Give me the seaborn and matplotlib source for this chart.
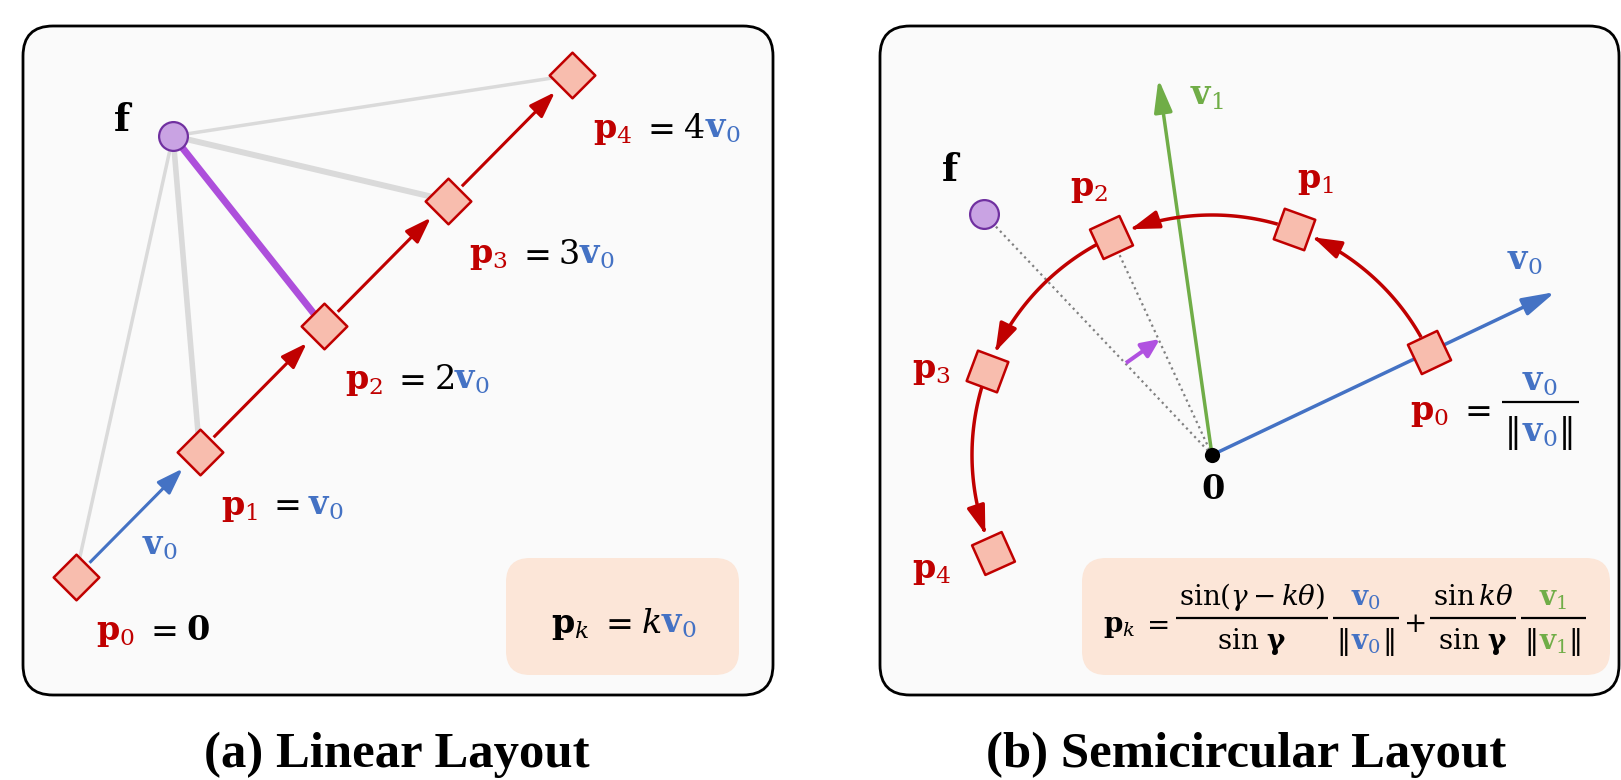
import numpy as np
import matplotlib.pyplot as plt
import seaborn as sns
from matplotlib.patches import FancyBboxPatch, FancyArrowPatch
from matplotlib.path import Path

# ---- data (pixel space of the 1621x780 canvas, y pointing down) ----
# (a) linear layout: p_k = p_0 + k * v0
lin_k = [0, 1, 2, 3, 4]
lin_p0 = (75.5, 577.0)
lin_v0 = (124.1, -125.5)
lin_f = (173.0, 136.0)
lin_rhs = [r'$\mathbf{0}$', '', '$2$', '$3$', '$4$']

# (b) semicircular layout
semi_k = [0, 1, 2, 3, 4]
semi_o = (1212.0, 455.0)
semi_r = 240.0
v0_deg = 25.4
v1_deg = 98.1
theta_deg = 44.7
vec_len = 380.0
semi_f = (984.0, 214.0)

RED = '#C00000'
BLUE = '#4472C4'
GREEN = '#70AD47'
PURPLE = '#AD4FDB'
FILL = '#F8BDAE'
GRAY = '#DADADA'
NORM = '\u2016'

sns.set_theme(style='white')
plt.rcParams['mathtext.fontset'] = 'dejavuserif'
plt.rcParams['font.family'] = ['DejaVu Serif']
plt.rcParams['text.color'] = 'black'

fig = plt.figure(figsize=(16.21, 7.80), dpi=100)
ax = fig.add_axes([0, 0, 1, 1])
ax.set_xlim(0, 1621)
ax.set_ylim(780, 0)
ax.axis('off')
renderer = fig.canvas.get_renderer()


def width(s, size):
    t = ax.text(0, 0, s, fontsize=size)
    w = t.get_window_extent(renderer).width
    t.remove()
    return w


def put(x, y, pieces, size, ha='left', draw=True):
    # pieces: (text, colour, gap after)
    ws = [width(s, size) for s, c, g in pieces]
    total = sum(ws) + sum(g for s, c, g in pieces[:-1])
    if ha == 'center':
        x -= total / 2
    if draw:
        for (s, c, g), w in zip(pieces, ws):
            ax.text(x, y, s, fontsize=size, color=c, va='baseline', ha='left', zorder=6)
            x += w + g
    return total


def frac(x, ybar, num, den, size, up, down, pad=3):
    w = max(put(0, 0, num, size, draw=False), put(0, 0, den, size, draw=False)) + 2 * pad
    put(x + w / 2, ybar - up, num, size, ha='center')
    put(x + w / 2, ybar + down, den, size, ha='center')
    ax.plot([x, x + w], [ybar, ybar], color='black', lw=1.6, solid_capstyle='butt', zorder=6)
    return w


def arrow(p, q, color, lw, hl=1.6, hw=0.55, z=3, path=None):
    style = f'-|>,head_length={hl},head_width={hw}'
    if path is not None:
        a = FancyArrowPatch(path=path, arrowstyle=style, mutation_scale=10,
                            color=color, lw=lw, zorder=z, capstyle='butt')
    else:
        a = FancyArrowPatch(posA=p, posB=q, arrowstyle=style, mutation_scale=10,
                            color=color, lw=lw, zorder=z, shrinkA=0, shrinkB=0,
                            capstyle='butt')
    ax.add_patch(a)


def along(p, q, da, db):
    p, q = np.array(p), np.array(q)
    u = (q - p) / np.linalg.norm(q - p)
    return tuple(p + u * da), tuple(q - u * db)


# panels
for x0, x1 in [(23, 773), (880, 1619)]:
    ax.add_patch(FancyBboxPatch((x0, 26), x1 - x0, 669, boxstyle='round,pad=0,rounding_size=30',
                                fc='#FAFAFA', ec='black', lw=2, zorder=0))
for x0, x1 in [(506, 739), (1082, 1610)]:
    ax.add_patch(FancyBboxPatch((x0, 558), x1 - x0, 117, boxstyle='round,pad=0,rounding_size=24',
                                fc='#FCE6D8', ec='none', zorder=1))

# ---------------- (a) linear layout ----------------
lin_x = [lin_p0[0] + k * lin_v0[0] for k in lin_k]
lin_y = [lin_p0[1] + k * lin_v0[1] for k in lin_k]
link_lw = [2.5, 4.0, 5.0, 4.3, 2.5]
for k in lin_k:
    col = PURPLE if k == 2 else GRAY
    ax.plot([lin_f[0], lin_x[k]], [lin_f[1], lin_y[k]], color=col, lw=link_lw[k],
            solid_capstyle='butt', zorder=2)
for k in lin_k[:-1]:
    a, b = along((lin_x[k], lin_y[k]), (lin_x[k + 1], lin_y[k + 1]), 20, 24)
    arrow(a, b, BLUE if k == 0 else RED, 2.2)
sns.scatterplot(x=lin_x, y=lin_y, marker=(4, 0, 0), s=1080, color=FILL,
                edgecolor=RED, linewidth=1.8, ax=ax, zorder=4)
sns.scatterplot(x=[lin_f[0]], y=[lin_f[1]], marker='o', s=430, color='#C9A3E3',
                edgecolor='#7030A0', linewidth=1.6, ax=ax, zorder=5)

LS = 24
for k in lin_k:
    lx, ly = lin_x[k] + 21, lin_y[k] + 63
    pcs = [(r'$\mathbf{p}_%d$' % k, RED, 9), ('$=$', 'black', 9)]
    if k == 0:
        pcs.append((lin_rhs[0], 'black', 0))
    elif k == 1:
        pcs.append((r'$\mathbf{v}_0$', BLUE, 0))
    else:
        pcs += [(lin_rhs[k], 'black', 0), (r'$\mathbf{v}_0$', BLUE, 0)]
    put(lx, ly, pcs, LS)
put(142, 555, [(r'$\mathbf{v}_0$', BLUE, 0)], LS)
ax.text(123, 131, r'$\mathbf{f}$', fontsize=27, ha='center', va='baseline', color='black')
put(624, 633, [(r'$\mathbf{p}_k$', 'black', 9), ('$=$', 'black', 9),
               ('$k$', 'black', 0), (r'$\mathbf{v}_0$', BLUE, 0)], LS, ha='center')

# ---------------- (b) semicircular layout ----------------
ox, oy = semi_o


def pt(deg, r=semi_r):
    a = np.deg2rad(deg)
    return ox + r * np.cos(a), oy - r * np.sin(a)


semi_deg = [v0_deg + k * theta_deg for k in semi_k]
sx = [pt(d)[0] for d in semi_deg]
sy = [pt(d)[1] for d in semi_deg]

# dotted rays to f and p2
for tx, ty in [semi_f, (sx[2], sy[2])]:
    ax.plot([ox, tx], [oy, ty], color='#808080', lw=1.6, ls=':', zorder=2)
arrow((1126, 363), (1160, 339), '#B051E0', 2.9, hl=1.1, hw=0.5)

# v0 / v1
arrow(semi_o, pt(v0_deg, vec_len), BLUE, 2.5, hl=2.0, hw=0.55, z=2)
arrow(semi_o, pt(v1_deg, vec_len), GREEN, 2.5, hl=2.0, hw=0.55, z=2)

# arc with arrowheads
d1, d2 = 4.0, 5.0
for k in semi_k[:-1]:
    ang = np.linspace(semi_deg[k] + d1, semi_deg[k + 1] - d2, 40)
    verts = np.column_stack(pt(ang))
    arrow(None, None, RED, 2.5, hl=1.7, hw=0.55, path=Path(verts))

for k in semi_k:
    sns.scatterplot(x=[sx[k]], y=[sy[k]], marker=(4, 0, 45 + semi_deg[k]), s=1090,
                    color=FILL, edgecolor=RED, linewidth=1.8, ax=ax, zorder=4)
sns.scatterplot(x=[semi_f[0]], y=[semi_f[1]], marker='o', s=430, color='#C9A3E3',
                edgecolor='#7030A0', linewidth=1.6, ax=ax, zorder=5)
sns.scatterplot(x=[ox], y=[oy], marker='o', s=120, color='black', edgecolor='black',
                linewidth=0, ax=ax, zorder=5)

ax.text(951.5, 181, r'$\mathbf{f}$', fontsize=27, ha='center', va='baseline', color='black')
ax.text(1212.5, 499, r'$\mathbf{0}$', fontsize=LS, ha='center', va='baseline', color='black')
for k, (lx, ly) in zip([1, 2, 3, 4], [(1297, 188), (1070, 196), (912, 378), (912, 578)]):
    put(lx, ly, [(r'$\mathbf{p}_%d$' % k, RED, 0)], LS)
put(1190, 105, [(r'$\mathbf{v}_1$', GREEN, 0)], LS)
put(1507, 270, [(r'$\mathbf{v}_0$', BLUE, 0)], LS)

# p0 = v0 / ||v0||
x = 1410
x += put(x, 420, [(r'$\mathbf{p}_0$', RED, 9), ('$=$', 'black', 0)], LS) + 11
frac(x, 402, [(r'$\mathbf{v}_0$', BLUE, 0)],
     [(NORM, 'black', 1), (r'$\mathbf{v}_0$', BLUE, 1), (NORM, 'black', 0)],
     LS, up=11, down=40)

# semicircular formula
FS = 20
base = 632
x = 1103
x += put(x, base, [(r'$\mathbf{p}_k$', 'black', 6), ('$=$', 'black', 0)], FS) + 7
x += frac(x, base - 14, [(r'$\sin(\gamma-k\theta)$', 'black', 0)],
          [(r'$\sin\,\mathbf{\gamma}$', 'black', 0)], FS, up=13, down=31) + 5
x += frac(x, base - 14, [(r'$\mathbf{v}_0$', BLUE, 0)],
          [(NORM, 'black', 1), (r'$\mathbf{v}_0$', BLUE, 1), (NORM, 'black', 0)],
          FS, up=13, down=31) + 4
x += put(x, base, [('$+$', 'black', 0)], FS) + 4
x += frac(x, base - 14, [(r'$\sin k\theta$', 'black', 0)],
          [(r'$\sin\,\mathbf{\gamma}$', 'black', 0)], FS, up=13, down=31) + 5
frac(x, base - 14, [(r'$\mathbf{v}_1$', GREEN, 0)],
     [(NORM, 'black', 1), (r'$\mathbf{v}_1$', GREEN, 1), (NORM, 'black', 0)],
     FS, up=13, down=31)

# captions
for cx, title in [(397, '(a) Linear Layout'), (1246, '(b) Semicircular Layout')]:
    ax.text(cx, 767, title, fontsize=36.5, fontweight='bold', ha='center', va='baseline',
            color='black', family=['Liberation Serif', 'DejaVu Serif'])

fig.savefig('out.png', dpi=100)
